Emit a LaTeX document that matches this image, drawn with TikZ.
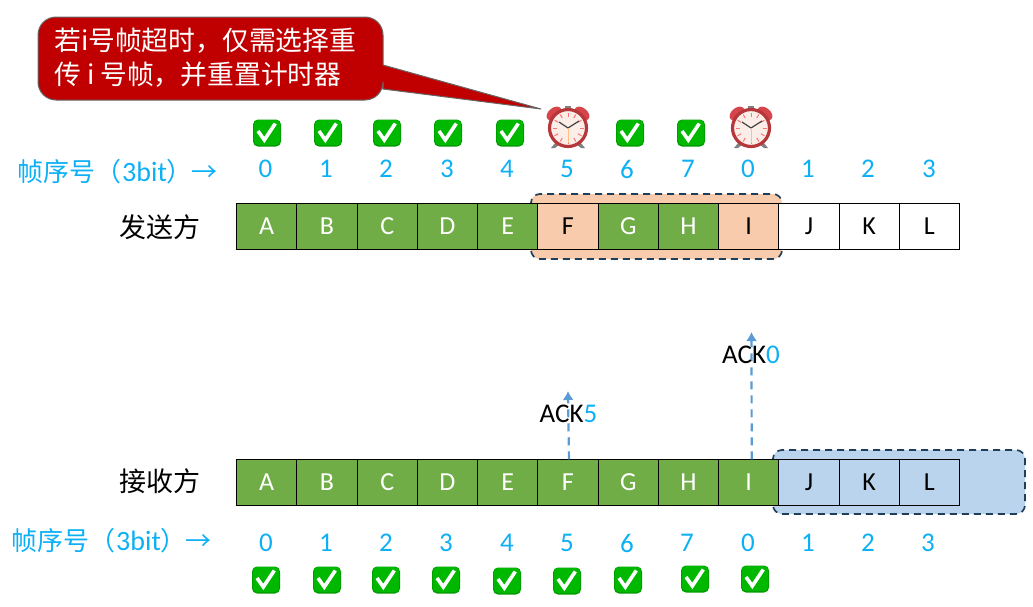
\documentclass[tikz,border=0pt]{standalone}
\usepackage{fontspec}
\setmainfont{Carlito}
\newfontfamily\cjk{Noto Sans CJK SC}
\definecolor{grn}{HTML}{70AD47}
\definecolor{peach}{HTML}{F8CBAD}
\definecolor{lblue}{HTML}{B9D4EC}
\definecolor{numblue}{HTML}{0DB0F5}
\definecolor{dashc}{HTML}{1F3E5C}
\definecolor{ackc}{HTML}{5B9BD5}
\definecolor{callred}{HTML}{C00000}
\definecolor{chkg}{HTML}{00B800}
\definecolor{rim}{HTML}{B5373A}
\definecolor{bell}{HTML}{D6454A}
\definecolor{faceC}{HTML}{FBEDE8}
\usetikzlibrary{arrows.meta}
\tikzset{
  x=1pt,y=-1pt,
  cell/.style={draw=black,line width=1.1pt,minimum width=60.25pt,minimum height=46.5pt,inner sep=0pt,outer sep=0pt,font=\fontsize{26}{26}\selectfont},
  done/.style={cell,fill=grn,text=white},
  late/.style={cell,fill=peach,text=black},
  free/.style={cell,fill=white,text=black},
  recv/.style={cell,fill=lblue,text=black},
  num/.style={text=numblue,inner sep=0pt,font=\fontsize{27}{27}\selectfont},
  seqlabel/.style={text=numblue,inner sep=0pt,anchor=west,font=\fontsize{28}{28}\selectfont},
  role/.style={text=black,inner sep=0pt,font=\cjk\fontsize{27}{27}\selectfont},
  window/.style={draw=dashc,line width=1.7pt,dash pattern=on 7pt off 5pt,rounded corners=9pt},
  acklabel/.style={inner sep=0pt,font=\fontsize{27}{27}\selectfont},
  ackline/.style={draw=ackc,line width=2.2pt,dash pattern=on 8pt off 6pt,-{Latex[length=9pt,width=11pt]}},
  callout/.style={fill=callred,draw=black!60,line width=1pt},
  calltext/.style={text=white,inner sep=0pt,anchor=west,font=\cjk\fontsize{26.8}{26.8}\selectfont},
  chk/.pic={
    \fill[chkg!85!black,rounded corners=5pt] (-14,-13.5) rectangle (14,13.5);
    \fill[chkg,rounded corners=4.5pt] (-13.2,-13) rectangle (13.2,12);
    \draw[white,line width=3.6pt,line join=miter] (-9,-2) -- (-2.7,7) -- (8.3,-9.5);
  },
  clock/.pic={
    \fill[black!50] (-12,14) -- (-17,20) -- (-13,20) -- (-8,16) -- cycle;
    \fill[black!50] (12,14) -- (17,20) -- (13,20) -- (8,16) -- cycle;
    \fill[black!50] (-3,-22) rectangle (3,-19);
    \fill[black!50] (-1,-20) rectangle (1,-15);
    \fill[bell] (-14,-14.5) circle[x radius=8.5,y radius=5.5,rotate=40];
    \fill[bell] (14,-14.5) circle[x radius=8.5,y radius=5.5,rotate=-40];
    \fill[faceC,draw=rim,line width=3.2pt] (0,0) circle[radius=18.5];
    \foreach \a in {0,30,...,330}{\draw[red!55,line width=1pt] (\a:11.5) -- (\a:15.5);}
    \draw[black!75,line width=1.2pt] (0,0) -- (-9,-6);
    \draw[black!75,line width=1.2pt] (0,0) -- (11,-7);
    \draw[orange!50!white,line width=.8pt] (0,0) -- (0,15);
  }
}
\newcommand{\seqtext}{{\cjk\fontsize{26}{26}\selectfont 帧序号（}\hspace{1pt}3bit{\cjk\fontsize{26}{26}\selectfont ）\hspace{-1pt}→}}
\begin{document}
\begin{tikzpicture}
\useasboundingbox (0,0) rectangle (1033,606);
% callout
\path[callout,rounded corners=0pt]
  (56,17) -- (365,17) arc[start angle=-90,end angle=0,radius=18] -- (383,65) -- (541,109) -- (383,89) -- (383,82)
  arc[start angle=0,end angle=90,radius=18] -- (56,100) arc[start angle=90,end angle=180,radius=18]
  -- (38,35) arc[start angle=180,end angle=270,radius=18] -- cycle;
\node[calltext] (call1) at (54,41) {若i号帧超时，仅需选择重};
\node[calltext] (call2) at (54,75) {传 i 号帧，并重置计时器};
% windows
\path[window,fill=peach] (531,194) rectangle (782,259);
\path[window,fill=lblue] (773,450) rectangle (1025,514);
% sender cells
\foreach \n/\t/\s [count=\i from 0] in {a/A/done,b/B/done,c/C/done,d/D/done,e/E/done,f/F/late,g/G/done,h/H/done,i/I/late,j/J/free,k/K/free,l/L/free}
  \node[\s] (s\n) at ({266.7+60.25*\i},226.5) {\t};
% receiver cells
\foreach \n/\t/\s [count=\i from 0] in {a/A/done,b/B/done,c/C/done,d/D/done,e/E/done,f/F/done,g/G/done,h/H/done,i/I/done,j/J/recv,k/K/recv,l/L/recv}
  \node[\s] (r\n) at ({266.7+60.25*\i},482.5) {\t};
% numbers
\foreach \x/\t [count=\i] in {265.5/0,326/1,386/2,447/3,507/4,567/5,627/6,688/7,748/0,808/1,868/2,929/3}
  \node[num] (tn\i) at (\x,169) {\t};
\foreach \x/\t [count=\i] in {266/0,326/1,386/2,446/3,507/4,567/5,627/6,687/7,748/0,808/1,868/2,928/3}
  \node[num] (bn\i) at (\x,543) {\t};
% checks and clocks
\foreach \x in {267,328,387,448,510,630,691} \pic at (\x,133) {chk};
\foreach \x/\y in {266/580,327/580,386/580,446/580,507/581,567/581,628/580,695/579,755/579} \pic at (\x,\y) {chk};
\pic at (568,128) {clock};
\pic at (751,128) {clock};
% labels
\node[seqlabel] (tseq) at (17,172) {\seqtext};
\node[seqlabel] (bseq) at (11,541) {\seqtext};
\node[role] (sender) at (160,227) {发送方};
\node[role] (receiver) at (160,481) {接收方};
% acks
\coordinate (ackfend) at (568,391);
\coordinate (ackiend) at (751.5,332);
\draw[ackline] ([xshift=1pt]rf.north) -- (ackfend);
\draw[ackline] ([xshift=3pt]ri.north) -- (ackiend);
\node[acklabel] (ackf) at (568.5,414) {ACK\textcolor{numblue}{5}};
\node[acklabel] (acki) at (751,355) {ACK\textcolor{numblue}{0}};
\end{tikzpicture}
\end{document}
